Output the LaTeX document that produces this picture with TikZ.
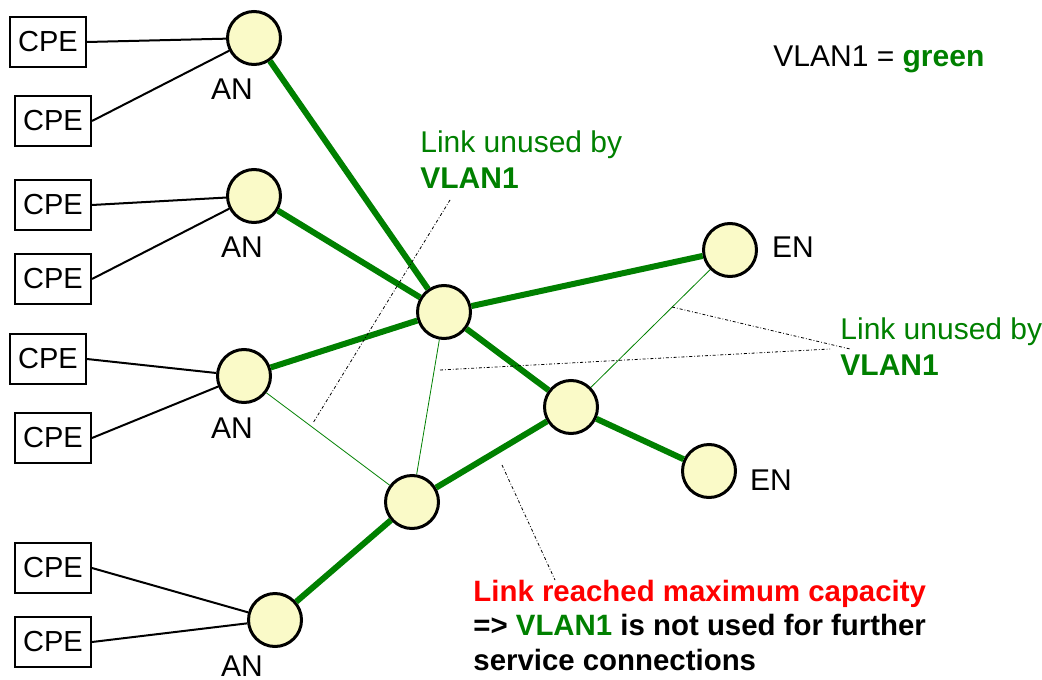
\documentclass[tikz,border=0pt]{standalone}
\usepackage{fontspec}
\setmainfont{Liberation Sans}
\definecolor{vgreen}{RGB}{0,128,0}
\definecolor{nodefill}{RGB}{250,250,200}
\definecolor{capred}{RGB}{255,0,0}
\tikzset{
    cpe/.style={draw, line width=1pt, fill=white, minimum width=38pt, minimum height=25pt, inner sep=0pt, font=\fontsize{14.5}{17}\selectfont},
    sw/.style={circle, draw, line width=1.5pt, fill=nodefill, minimum size=26.5pt, inner sep=0pt},
    used/.style={vgreen, line width=3pt},
    unused/.style={vgreen, line width=0.4pt},
    access/.style={black, line width=1pt},
    pointer/.style={black, line width=0.4pt, dash pattern=on 1.5pt off 1pt on 0.4pt off 1pt},
    lbl/.style={font=\fontsize{15}{18}\selectfont, inner sep=0pt}
}

\begin{document}
\begin{tikzpicture}[x=0.5pt, y=-0.5pt]
    \useasboundingbox (0,0) rectangle (1042,679);

    \node[cpe] (cpe1) at (48,42) {CPE};
    \node[cpe] (cpe2) at (53,121) {CPE};
    \node[cpe] (cpe3) at (53,205) {CPE};
    \node[cpe] (cpe4) at (53,279) {CPE};
    \node[cpe] (cpe5) at (48,359) {CPE};
    \node[cpe] (cpe6) at (53,438) {CPE};
    \node[cpe] (cpe7) at (53,568) {CPE};
    \node[cpe] (cpe8) at (53,642) {CPE};

    \node[sw] (an1) at (254,38) {};
    \node[sw] (an2) at (254,196) {};
    \node[sw] (an3) at (244,376) {};
    \node[sw] (an4) at (275,620) {};
    \node[sw] (core1) at (444,312) {};
    \node[sw] (core2) at (571,407) {};
    \node[sw] (core3) at (412,502) {};
    \node[sw] (en1) at (730,250) {};
    \node[sw] (en2) at (709,471) {};

    \node[lbl] (an1lbl) at (232,89) {AN};
    \node[lbl] (an2lbl) at (242,247) {AN};
    \node[lbl] (an3lbl) at (232,428) {AN};
    \node[lbl] (an4lbl) at (242,666) {AN};
    \node[lbl] (en1lbl) at (793,247) {EN};
    \node[lbl] (en2lbl) at (771,480) {EN};

    \draw[access] (cpe1.east) -- (an1);
    \draw[access] (cpe2.east) -- (an1);
    \draw[access] (cpe3.east) -- (an2);
    \draw[access] (cpe4.east) -- (an2);
    \draw[access] (cpe5.east) -- (an3);
    \draw[access] (cpe6.east) -- (an3);
    \draw[access] (cpe7.east) -- (an4);
    \draw[access] (cpe8.east) -- (an4);

    \draw[used] (an1) -- (core1);
    \draw[used] (an2) -- (core1);
    \draw[used] (an3) -- (core1);
    \draw[used] (core1) -- (en1);
    \draw[used] (core1) -- (core2);
    \draw[used] (core2) -- (en2);
    \draw[used] (core2) -- (core3);
    \draw[used] (core3) -- (an4);

    \draw[unused] (an3) -- (core3);
    \draw[unused] (core1) -- (core3);
    \draw[unused] (core2) -- (en1);

    \node[lbl, anchor=base west] (legend) at (773,67) {VLAN1 = \textcolor{vgreen}{\textbf{green}}};
    \node[lbl, anchor=base west, align=left, text=vgreen] (unused1) at (420,189) {Link unused by\\\textbf{VLAN1}};
    \node[lbl, anchor=base west, align=left, text=vgreen] (unused2) at (840,375) {Link unused by\\\textbf{VLAN1}};
    \node[lbl, anchor=base west, align=left, font=\fontsize{14.7}{17.25}\selectfont\bfseries] (capnote) at (473,670)
        {\textcolor{capred}{Link reached maximum capacity}\\=> \textcolor{vgreen}{VLAN1} is not used for further\\service connections};

    \coordinate (p1a) at (450,200);
    \coordinate (p1b) at (313,423);
    \coordinate (p2a) at (672,307);
    \coordinate (p2b) at (850,349);
    \coordinate (p2c) at (440,370);
    \coordinate (p2d) at (830,349);
    \coordinate (p3a) at (502,465);
    \coordinate (p3b) at (555,580);
    \draw[pointer] (p1a) -- (p1b);
    \draw[pointer] (p2a) -- (p2b);
    \draw[pointer] (p2c) -- (p2d);
    \draw[pointer] (p3a) -- (p3b);
\end{tikzpicture}
\end{document}
